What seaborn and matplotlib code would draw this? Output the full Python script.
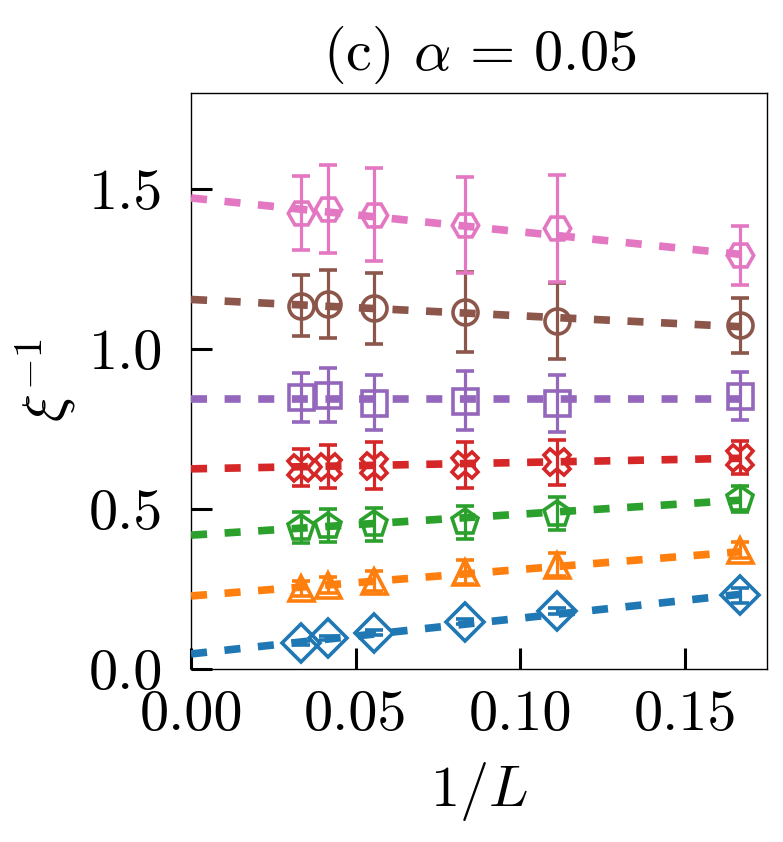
import numpy as np
import matplotlib
matplotlib.use("Agg")
import matplotlib.pyplot as plt
import seaborn as sns

# system sizes and 1/L
L = np.array([30, 24, 18, 12, 9, 6])
inv_L = 1.0 / L

# xi^{-1} values with error bars
blue_y = [0.080, 0.096, 0.113, 0.147, 0.181, 0.230]
blue_err = [0.006, 0.006, 0.008, 0.008, 0.010, 0.023]
orange_y = [0.252, 0.262, 0.276, 0.302, 0.326, 0.372]
orange_err = [0.023, 0.026, 0.031, 0.037, 0.037, 0.026]
green_y = [0.441, 0.448, 0.452, 0.458, 0.485, 0.530]
green_err = [0.049, 0.052, 0.051, 0.052, 0.051, 0.040]
red_y = [0.629, 0.632, 0.635, 0.638, 0.646, 0.660]
red_err = [0.059, 0.066, 0.074, 0.072, 0.070, 0.052]
purple_y = [0.848, 0.856, 0.832, 0.838, 0.830, 0.853]
purple_err = [0.076, 0.084, 0.086, 0.092, 0.089, 0.076]
brown_y = [1.135, 1.140, 1.126, 1.114, 1.086, 1.073]
brown_err = [0.094, 0.106, 0.112, 0.125, 0.118, 0.087]
pink_y = [1.423, 1.436, 1.419, 1.387, 1.376, 1.292]
pink_err = [0.116, 0.137, 0.146, 0.149, 0.168, 0.092]

# linear fits: value at 1/L = 0 and at 1/L = 1/6
fit_x = [0.0, 1.0 / 6]
blue_fit = [0.047, 0.233]
orange_fit = [0.228, 0.366]
green_fit = [0.418, 0.527]
red_fit = [0.625, 0.658]
purple_fit = [0.843, 0.843]
brown_fit = [1.154, 1.069]
pink_fit = [1.471, 1.295]

series = [
    (blue_y, blue_err, blue_fit, "#1f77b4", "D", 19),
    (orange_y, orange_err, orange_fit, "#ff7f0e", "^", 18),
    (green_y, green_err, green_fit, "#2ca02c", "p", 19),
    (red_y, red_err, red_fit, "#d62728", "X", 19),
    (purple_y, purple_err, purple_fit, "#9467bd", "s", 18),
    (brown_y, brown_err, brown_fit, "#8c564b", "o", 18),
    (pink_y, pink_err, pink_fit, "#e377c2", "H", 19),
]

sns.set_style("ticks")
plt.rcParams.update({
    "font.family": ["cmr10"],
    "mathtext.fontset": "cm",
    "axes.formatter.use_mathtext": True,
    "axes.unicode_minus": False,
    "text.color": "black",
    "axes.labelcolor": "black",
    "xtick.color": "black",
    "ytick.color": "black",
    "axes.edgecolor": "black",
})

fig, ax = plt.subplots(figsize=(7.83, 8.42), dpi=100)
fig.subplots_adjust(left=0.244, right=0.980, bottom=0.2055, top=0.890)

for y, err, fit, color, marker, ms in series:
    ax.errorbar(inv_L, y, yerr=err, fmt=marker, ms=ms, mfc="none", mec=color,
                mew=2.6, ecolor=color, elinewidth=2.3, capsize=6.5, capthick=2.3,
                zorder=2)
    sns.lineplot(x=fit_x, y=fit, ax=ax, color=color, lw=5.5,
                 linestyle=(0, (2.1, 2.3)), zorder=3)

ax.set_xlim(0, 0.175)
ax.set_ylim(0, 1.8)
ax.set_xticks([0.0, 0.05, 0.10, 0.15])
ax.set_yticks([0.0, 0.5, 1.0, 1.5])
ax.xaxis.set_major_formatter(matplotlib.ticker.FormatStrFormatter("%.2f"))
ax.yaxis.set_major_formatter(matplotlib.ticker.FormatStrFormatter("%.1f"))

ax.tick_params(direction="in", length=15, width=2.2, labelsize=42)
ax.tick_params(axis="y", pad=20)
ax.tick_params(axis="x", pad=15)
for sp in ax.spines.values():
    sp.set_linewidth(1.0)

ax.set_title(r"(c) $\alpha\,=\,0.05$", fontsize=42, pad=16)
ax.set_xlabel(r"$1/L$", fontsize=42, labelpad=14)
ax.set_ylabel(r"$\xi^{-1}$", fontsize=42, labelpad=8)

plt.savefig("out.png", dpi=100)
plt.close()
